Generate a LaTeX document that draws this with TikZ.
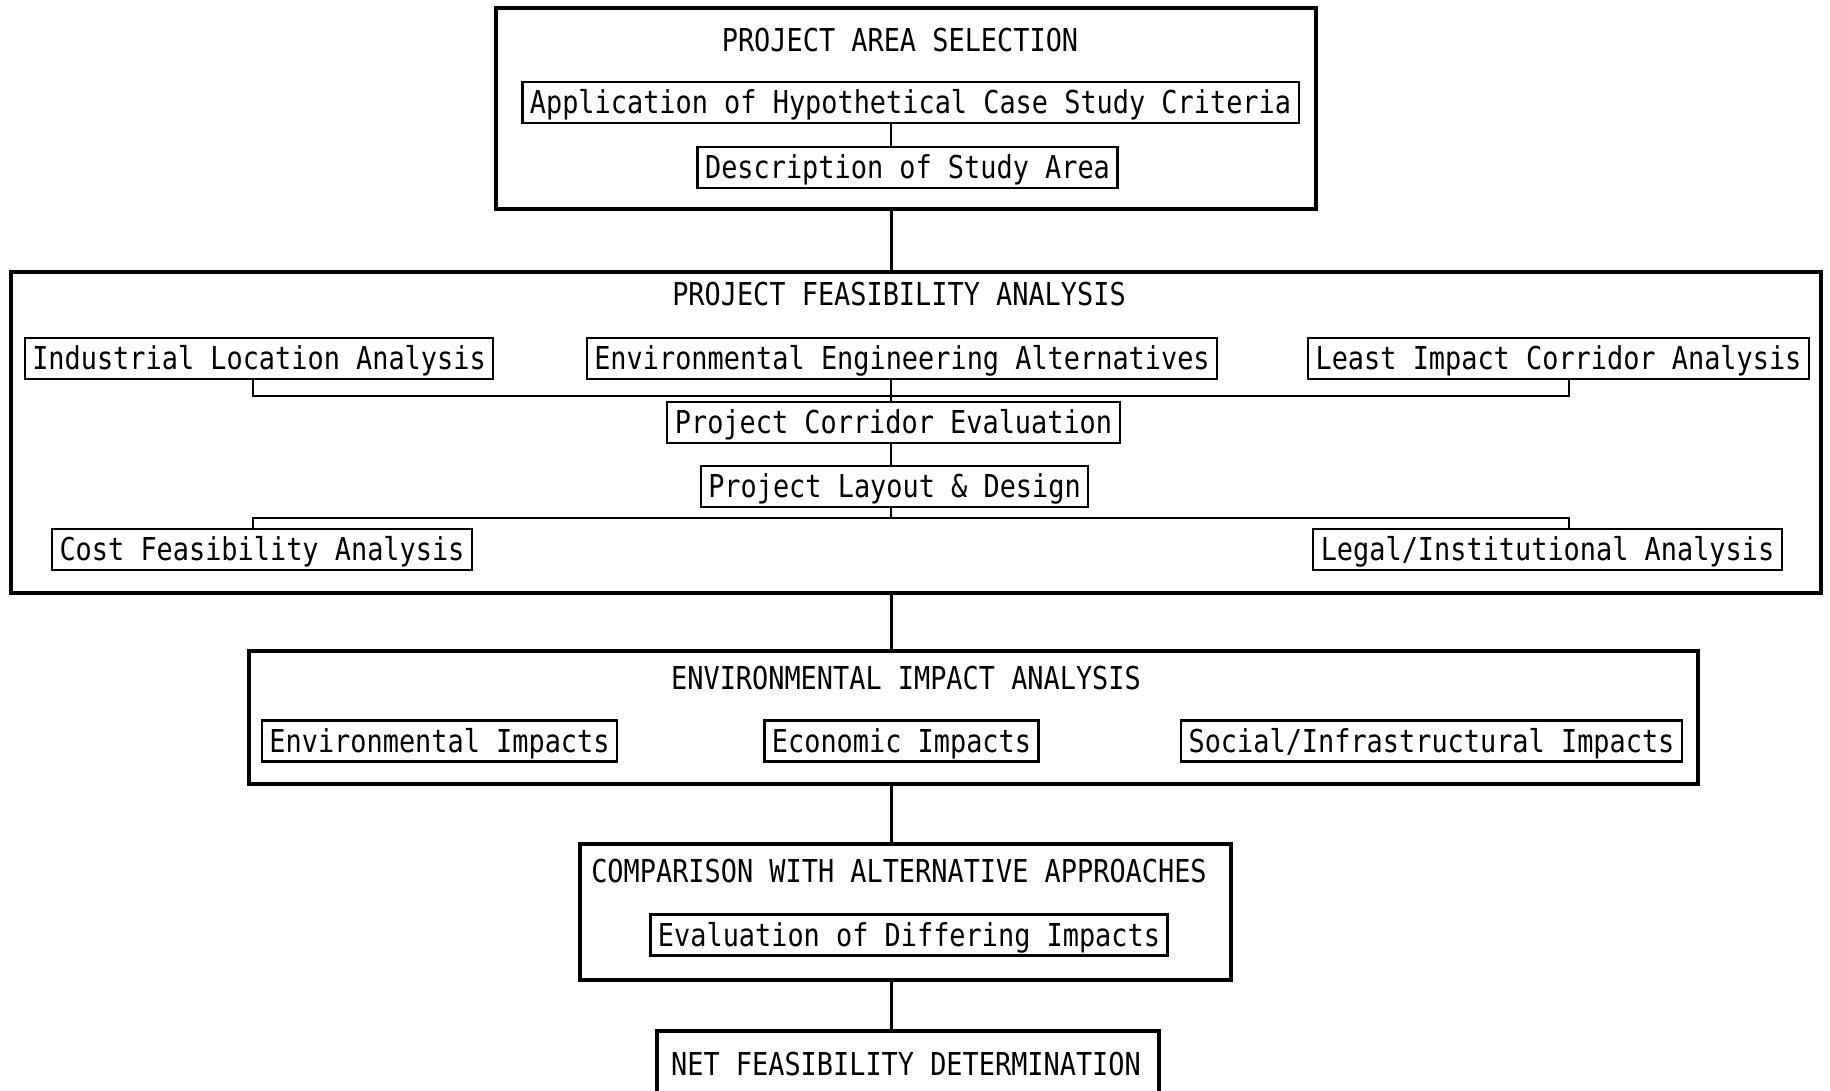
\documentclass[tikz,border=0pt]{standalone}
\usepackage{fontspec}
\newfontfamily\typerfont[FakeStretch=0.854]{DejaVu Sans Mono}

\begin{document}
\begin{tikzpicture}[x=0.4pt, y=-0.4pt,
    outerBox/.style={draw, line width=1.3pt, inner sep=0pt},
    innerBox/.style={draw, line width=0.9pt, inner xsep=3pt, inner ysep=2pt, text height=10.6pt, text depth=1.8pt, font=\typerfont\fontsize{12.6}{14}\selectfont},
    titleText/.style={inner sep=0pt, text height=9.4pt, text depth=3pt, font=\typerfont\fontsize{12.6}{14}\selectfont},
    link/.style={line width=0.6pt},
    spine/.style={line width=1.2pt}]
    \fill[white] (0,0) rectangle (1830,1091);
    \useasboundingbox (0,0) rectangle (1830,1091);

    % outer stage boxes
    \node[outerBox, minimum width=328pt, minimum height=80.4pt](areaBox) at (906, 108.5) {};
    \node[outerBox, minimum width=724pt, minimum height=128.4pt](feasBox) at (916, 432.5) {};
    \node[outerBox, minimum width=579.6pt, minimum height=53.2pt](impactBox) at (973.5, 717.5) {};
    \node[outerBox, minimum width=260.4pt, minimum height=54.4pt](compBox) at (905.5, 912) {};
    \node[outerBox, minimum width=200.8pt, minimum height=35.6pt](netBox) at (908, 1075.5) {};

    % stage titles
    \node[titleText](areaTitle) at (900, 43.5) {PROJECT AREA SELECTION};
    \node[titleText](feasTitle) at (899, 297.5) {PROJECT FEASIBILITY ANALYSIS};
    \node[titleText](impactTitle) at (906, 681.5) {ENVIRONMENTAL IMPACT ANALYSIS};
    \node[titleText](compTitle) at (899, 874) {COMPARISON WITH ALTERNATIVE APPROACHES};
    \node[titleText](netTitle) at (906, 1067.5) {NET FEASIBILITY DETERMINATION};

    % steps
    \node[innerBox](appl) at (910.5, 102.5) {Application of Hypothetical Case Study Criteria};
    \node[innerBox](descr) at (907.5, 167.5) {Description of Study Area};
    \node[innerBox](indus) at (259, 358.5) {Industrial Location Analysis};
    \node[innerBox](engAlt) at (902, 358.5) {Environmental Engineering Alternatives};
    \node[innerBox](least) at (1558.5, 358.5) {Least Impact Corridor Analysis};
    \node[innerBox](corridor) at (893.5, 422.5) {Project Corridor Evaluation};
    \node[innerBox](layout) at (894.5, 486.5) {Project Layout \& Design};
    \node[innerBox](cost) at (262, 549.5) {Cost Feasibility Analysis};
    \node[innerBox](legal) at (1547.5, 549.5) {Legal/Institutional Analysis};
    \node[innerBox](envImp) at (439.5, 741) {Environmental Impacts};
    \node[innerBox](econImp) at (901.5, 741) {Economic Impacts};
    \node[innerBox](socImp) at (1431.5, 741) {Social/Infrastructural Impacts};
    \node[innerBox](evalDiff) at (909, 935) {Evaluation of Differing Impacts};

    \coordinate (spineX) at (891, 0);
    \coordinate (brL1) at (253, 396);
    \coordinate (brR1) at (1569, 396);
    \coordinate (brL2) at (253, 518);
    \coordinate (brR2) at (1569, 518);

    \draw[spine] (areaBox.south -| spineX) -- (feasBox.north -| spineX);
    \draw[spine] (feasBox.south -| spineX) -- (impactBox.north -| spineX);
    \draw[spine] (impactBox.south -| spineX) -- (compBox.north -| spineX);
    \draw[spine] (compBox.south -| spineX) -- (netBox.north -| spineX);

    \draw[link] (appl.south -| spineX) -- (descr.north -| spineX);
    \draw[link] (indus.south -| brL1) -- (brL1) -- (brR1) -- (least.south -| brR1);
    \draw[link] (engAlt.south -| spineX) -- (corridor.north -| spineX);
    \draw[link] (corridor.south -| spineX) -- (layout.north -| spineX);
    \draw[link] (layout.south -| spineX) -- (brL2 -| spineX);
    \draw[link] (cost.north -| brL2) -- (brL2) -- (brR2) -- (legal.north -| brR2);
\end{tikzpicture}
\end{document}
